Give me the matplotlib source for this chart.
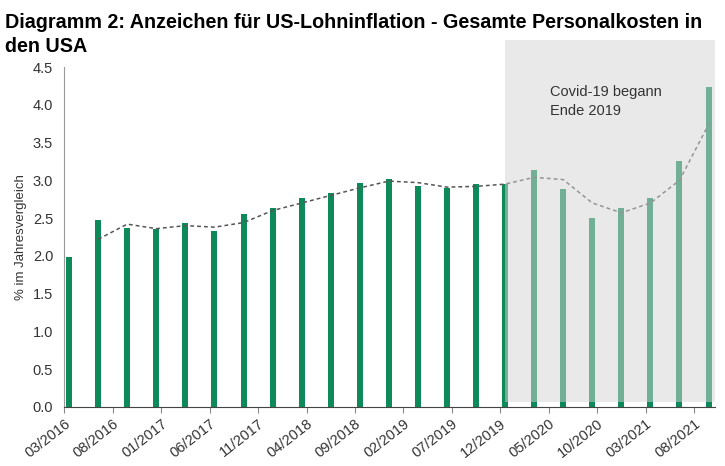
import matplotlib
matplotlib.use("Agg")
from matplotlib import pyplot as plt
from matplotlib.patches import Rectangle
import numpy as np

# quarterly values, 03/2016 .. 09/2021 (months counted from 03/2016)
months = list(range(0, 67, 3))
values = [1.98, 2.47, 2.37, 2.36, 2.44, 2.33, 2.56, 2.63, 2.77, 2.83, 2.96, 3.02,
          2.92, 2.90, 2.95, 2.95, 3.14, 2.89, 2.50, 2.63, 2.76, 3.25, 4.23]
# dashed trend line, starting at the second bar
trend = [2.22, 2.42, 2.36, 2.40, 2.38, 2.44, 2.60, 2.70, 2.80, 2.90, 2.99,
         2.97, 2.91, 2.92, 2.95, 3.04, 3.01, 2.70, 2.57, 2.70, 3.00, 3.74]

tick_months = list(range(0, 66, 5))
tick_labels = ["03/2016", "08/2016", "01/2017", "06/2017", "11/2017", "04/2018", "09/2018",
               "02/2019", "07/2019", "12/2019", "05/2020", "10/2020", "03/2021", "08/2021"]
covid_start = 45  # 12/2019

plt.rcParams['font.family'] = ['Liberation Sans', 'DejaVu Sans']

fig = plt.figure(figsize=(7.25, 4.66), dpi=100)
ax = fig.add_axes([0.0887, 0.127, 0.8973, 0.729])

x = np.array(months) + 0.5
ax.bar(x, values, width=0.62, color="#0e8a5a", zorder=2)
ax.plot(x[1:], trend, color="#555555", linestyle=(0, (2.5, 2)), linewidth=1.1, zorder=3)

# Covid shading drawn on top of the bars
shade = Rectangle((covid_start + 0.5, 0.06), 67.15 - covid_start - 0.5, 4.8,
                  facecolor="#d4d4d4", alpha=0.5, edgecolor="none", zorder=4, clip_on=False)
ax.add_patch(shade)
ax.text(50.1, 4.04, "Covid-19 begann\nEnde 2019", fontsize=10.5, color="#333333",
        va="center", ha="left", linespacing=1.45, zorder=5)

ax.set_xlim(0, 67.15)
ax.set_ylim(0, 4.5)
ax.set_yticks(np.arange(0, 4.51, 0.5))
ax.set_yticklabels([f"{v:.1f}" for v in np.arange(0, 4.51, 0.5)], fontsize=10.5, color="#333333")
ax.set_xticks(tick_months)
ax.set_xticklabels(tick_labels, rotation=38, ha="right", rotation_mode="anchor",
                   fontsize=10.5, color="#333333")
ax.tick_params(axis="y", length=0, pad=8)
ax.tick_params(axis="x", length=4, color="#888888", pad=3)
ax.set_ylabel("% im Jahresvergleich", fontsize=9.5, color="#333333", labelpad=4)

for side in ["top", "right"]:
    ax.spines[side].set_visible(False)
ax.spines["left"].set_color("#999999")
ax.spines["bottom"].set_color("#444444")

fig.text(0.007, 0.973, "Diagramm 2: Anzeichen für US-Lohninflation - Gesamte Personalkosten in\nden USA",
         fontsize=14.2, fontweight="bold", va="top", ha="left", linespacing=1.38)

fig.savefig("out.png", dpi=100)
